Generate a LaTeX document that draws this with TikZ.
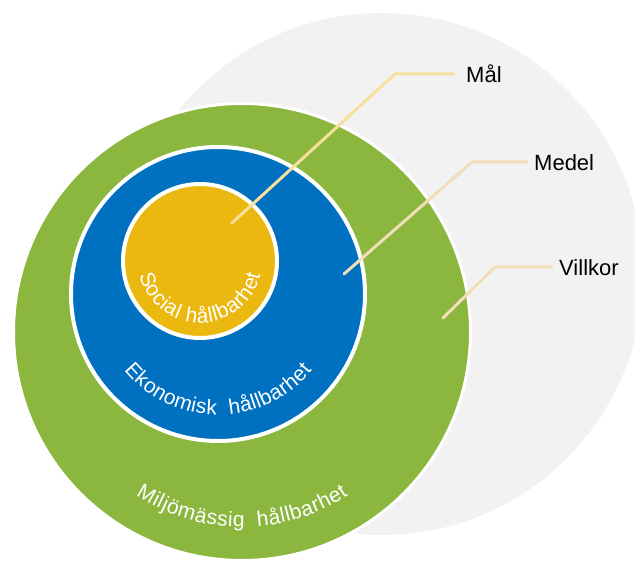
\documentclass[tikz,border=0pt]{standalone}
\usepackage{fontspec}
\setmainfont{Liberation Sans}
\usetikzlibrary{decorations.text}
\definecolor{greybg}{HTML}{F2F2F2}
\definecolor{envgreen}{HTML}{8BB73E}
\definecolor{ecoblue}{HTML}{0070C0}
\definecolor{socyellow}{HTML}{EBB80F}
\definecolor{malline}{HTML}{F7E09C}
\definecolor{medline}{HTML}{F2DEB8}
\tikzset{
  leader/.style={line width=3pt, line cap=round, line join=round},
  lbl/.style={font=\fontsize{22}{26}\selectfont, text=black, inner sep=0pt, anchor=base west},
  arctext/.style={decorate, decoration={text along path, text align={fit to path}, text={#1}}}
}
\begin{document}
\begin{tikzpicture}[x=1pt,y=1pt]
\useasboundingbox (0,0) rectangle (635,564);
\coordinate (gc) at (242,232);
\coordinate (bc) at (218,270);
\coordinate (yc) at (200,303);
\begin{scope}
  \clip (0,0) rectangle (635,564);
  \fill[greybg] (382,290) circle[radius=261pt];
  \filldraw[fill=envgreen, draw=white, line width=3pt] (gc) circle[radius=228.5pt];
  \filldraw[fill=ecoblue, draw=white, line width=4pt] (bc) circle[radius=147pt];
  \filldraw[fill=socyellow, draw=white, line width=4pt] (yc) circle[radius=77pt];
\end{scope}
% labels
\node[lbl] (mal) at (466,481) {Mål};
\node[lbl] (medel) at (534,393) {Medel};
\node[lbl] (villkor) at (559,288) {Villkor};
% leader points
\coordinate (malpt) at (232,341);
\coordinate (malknee) at (395,490);
\coordinate (medpt) at (344,290);
\coordinate (medknee) at (472,402);
\coordinate (vilpt) at (443,246);
\coordinate (vilknee) at (495,297);
\draw[leader, malline, shorten >=12pt] (malpt) -- (malknee) -- (malknee -| mal.west);
\draw[leader, medline, shorten >=7pt] (medpt) -- (medknee) -- (medknee -| medel.west);
\draw[leader, medline, shorten >=7pt] (vilpt) -- (vilknee) -- (vilknee -| villkor.west);
% curved texts
\path[arctext={|\fontsize{21}{21}\selectfont\color{white}|Social hållbarhet}]
  ([shift={(yc)}]193:62pt) arc[start angle=193, end angle=347, radius=62pt];
\path[arctext={|\fontsize{21}{21}\selectfont\color{white}|Ekonomisk{ }{ }hållbarhet}]
  ([shift={(bc)}]219:121pt) arc[start angle=219, end angle=321, radius=121pt];
\path[arctext={|\fontsize{21}{21}\selectfont\color{white}|Miljömässig{ }{ }hållbarhet}]
  ([shift={(gc)}]237:195pt) arc[start angle=237, end angle=303, radius=195pt];
\end{tikzpicture}
\end{document}
